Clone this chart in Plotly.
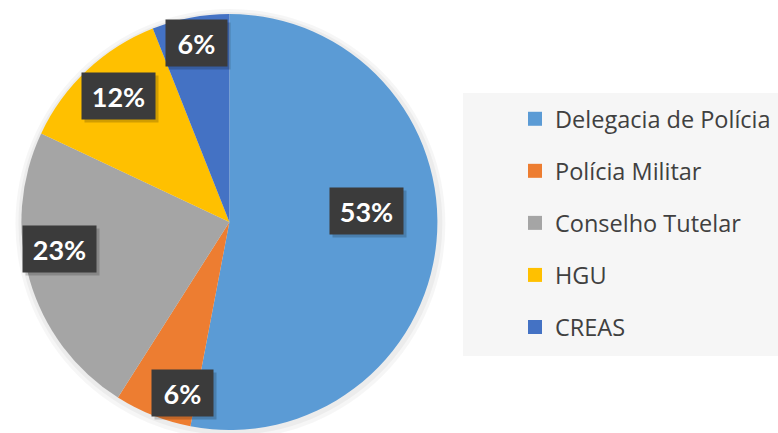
import math
import plotly.graph_objects as go

# Categories and shares (%)
categories = ["Delegacia de Polícia", "Polícia Militar", "Conselho Tutelar", "HGU", "CREAS"]
shares = [53, 6, 23, 12, 6]
colors = ["#5B9BD5", "#ED7D31", "#A5A5A5", "#FFC000", "#4472C4"]

# Label placement style: radial fraction and angular nudge (deg) per slice
label_radius = [0.663, 0.853, 0.825, 0.807, 0.877]
label_nudge = [-9.8, -6.4, 7.1, 1.85, 0.4]

W, H = 778, 433
CX, CY, R = 229.4, 222.0, 208.0  # pie centre / radius in px

fig = go.Figure()

fig.add_trace(go.Pie(
    labels=categories,
    values=shares,
    marker=dict(colors=colors, line=dict(width=0)),
    sort=False,
    direction="clockwise",
    rotation=0,
    textinfo="none",
    hoverinfo="label+percent",
    showlegend=False,
    domain=dict(x=[(CX - R) / W, (CX + R) / W], y=[1 - (CY + R) / H, 1 - (CY - R) / H]),
))

# Legend entries, one per category
for name, col in zip(categories, colors):
    fig.add_trace(go.Scatter(
        x=[None], y=[None], mode="markers", name=name, legendgroup=name,
        marker=dict(symbol="square", size=14, color=col, line=dict(width=0)),
        hoverinfo="skip",
    ))

# Percentage labels in dark boxes, placed from each slice's mid-angle
annotations = []
total = sum(shares)
cum = 0
for v, rf, nudge in zip(shares, label_radius, label_nudge):
    mid = (cum + v / 2) / total * 360 + nudge
    cum += v
    a = math.radians(mid)
    px = CX + rf * R * math.sin(a)
    py = CY - rf * R * math.cos(a)
    txt = f"{round(v / total * 100)}%"
    bw = 37 + 12 * len(txt)
    common = dict(xref="paper", yref="paper", showarrow=False, width=bw, height=46,
                  xanchor="center", yanchor="middle",
                  borderpad=0, align="center", valign="middle",
                  font=dict(family="Lato, Open Sans, sans-serif", size=27, color="white"))
    annotations.append(dict(x=(px + 3) / W, y=1 - (py + 3) / H, text="",
                            bgcolor="rgba(0,0,0,0.18)", **common))
    annotations.append(dict(x=px / W, y=1 - py / H, text=f"<b>{txt}</b>",
                            bgcolor="#3B3B3B", **common))

shapes = [
    # soft halo behind the pie
    dict(type="circle", xref="paper", yref="paper", layer="below",
         x0=(CX - R - 6) / W, x1=(CX + R + 8) / W, y0=1 - (CY + R + 9) / H, y1=1 - (CY - R - 5) / H,
         fillcolor="rgba(0,0,0,0.035)", line=dict(width=0)),
    dict(type="circle", xref="paper", yref="paper", layer="below",
         x0=(CX - R - 3) / W, x1=(CX + R + 5) / W, y0=1 - (CY + R + 5) / H, y1=1 - (CY - R - 2) / H,
         fillcolor="rgba(0,0,0,0.04)", line=dict(width=0)),
    # legend panel
    dict(type="rect", xref="paper", yref="paper", layer="below",
         x0=463 / W, x1=1, y0=1 - 356 / H, y1=1 - 93 / H,
         fillcolor="#F6F6F6", line=dict(width=0)),
]

fig.update_layout(
    width=W, height=H,
    margin=dict(l=0, r=0, t=0, b=0),
    paper_bgcolor="white", plot_bgcolor="rgba(0,0,0,0)",
    xaxis=dict(visible=False), yaxis=dict(visible=False),
    showlegend=True,
    legend=dict(
        x=515 / W, xanchor="left", y=1 - 97 / H, yanchor="top",
        bgcolor="rgba(0,0,0,0)", borderwidth=0,
        traceorder="grouped", tracegroupgap=18.5,
        font=dict(family="Segoe UI, Open Sans, sans-serif", size=23.5, color="#404040"),
    ),
    annotations=annotations,
    shapes=shapes,
)

fig.write_html("out.html")
